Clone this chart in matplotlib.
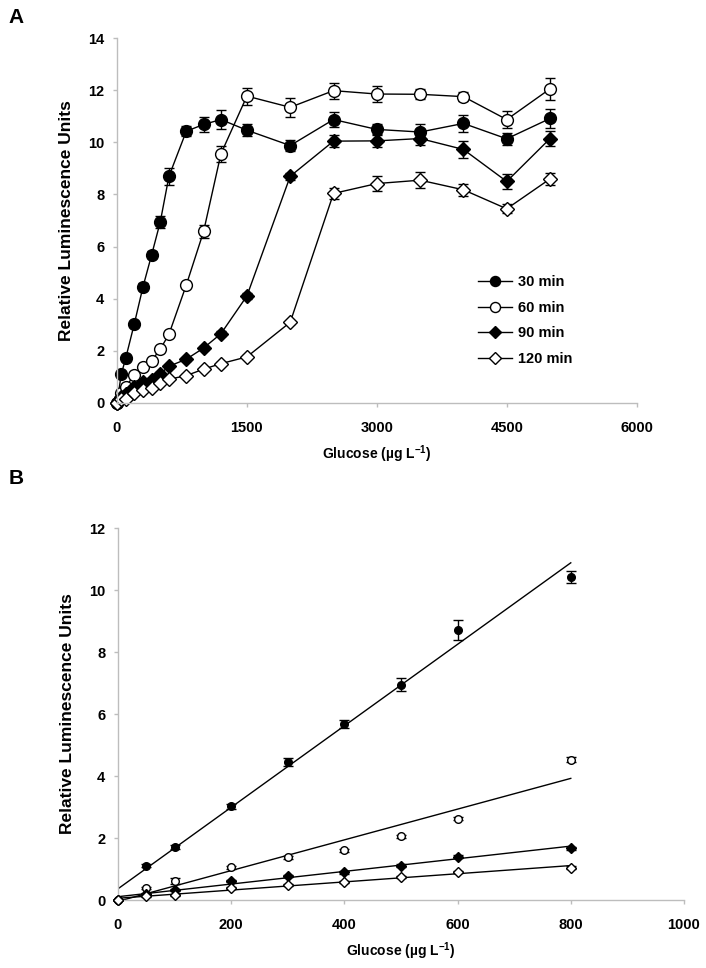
import matplotlib
matplotlib.use("Agg")
import matplotlib.pyplot as plt
import numpy as np

plt.rcParams['font.family'] = ['Liberation Sans', 'DejaVu Sans']
plt.rcParams['font.weight'] = 'bold'
plt.rcParams['mathtext.fontset'] = 'custom'
plt.rcParams['mathtext.bf'] = 'Liberation Sans:bold'
plt.rcParams['mathtext.rm'] = 'Liberation Sans:bold'
plt.rcParams['mathtext.default'] = 'bf'

# glucose concentrations (ug/L)
glucose = [0, 50, 100, 200, 300, 400, 500, 600, 800, 1000, 1200, 1500,
           2000, 2500, 3000, 3500, 4000, 4500, 5000]

rlu_30 = [0, 1.1, 1.7, 3.03, 4.45, 5.68, 6.95, 8.7, 10.43, 10.69, 10.88, 10.47,
          9.88, 10.88, 10.5, 10.4, 10.73, 10.14, 10.92]
err_30 = [0, 0.05, 0.06, 0.08, 0.13, 0.13, 0.22, 0.32, 0.2, 0.3, 0.38, 0.22,
          0.21, 0.28, 0.19, 0.29, 0.32, 0.22, 0.38]

rlu_60 = [0, 0.38, 0.61, 1.06, 1.38, 1.61, 2.06, 2.63, 4.52, 6.58, 9.56, 11.78,
          11.35, 11.99, 11.86, 11.85, 11.76, 10.88, 12.06]
err_60 = [0, 0.03, 0.1, 0.05, 0.05, 0.05, 0.05, 0.06, 0.08, 0.24, 0.3, 0.33,
          0.37, 0.31, 0.29, 0.2, 0.18, 0.34, 0.42]

rlu_90 = [0, 0.21, 0.32, 0.61, 0.78, 0.89, 1.11, 1.4, 1.67, 2.1, 2.65, 4.1,
          8.7, 10.05, 10.06, 10.15, 9.73, 8.5, 10.15]
err_90 = [0, 0.02, 0.03, 0.04, 0.04, 0.05, 0.05, 0.05, 0.05, 0.08, 0.1, 0.1,
          0.13, 0.23, 0.22, 0.24, 0.31, 0.29, 0.3]

rlu_120 = [0, 0.13, 0.16, 0.38, 0.48, 0.57, 0.75, 0.9, 1.04, 1.29, 1.5, 1.76,
           3.09, 8.04, 8.42, 8.55, 8.18, 7.45, 8.6]
err_120 = [0, 0.02, 0.02, 0.03, 0.03, 0.03, 0.04, 0.04, 0.05, 0.05, 0.05, 0.06,
           0.06, 0.21, 0.3, 0.3, 0.22, 0.17, 0.24]

labels = ['30 min', '60 min', '90 min', '120 min']
n_linear = 9  # points up to 800 ug/L used in panel B

series = [
    (rlu_30, err_30, 'o', 'black'),
    (rlu_60, err_60, 'o', 'white'),
    (rlu_90, err_90, 'D', 'black'),
    (rlu_120, err_120, 'D', 'white'),
]

axis_grey = '#bdbdbd'
xlabel = r'Glucose (µg L$^{-1}$)'
ylabel = 'Relative Luminescence Units'
tick_fs = 10.5
xlabel_fs = 10
ylabel_fs = 12.5


def style_axes(ax):
    for side in ['top', 'right']:
        ax.spines[side].set_visible(False)
    for side in ['left', 'bottom']:
        ax.spines[side].set_color(axis_grey)
        ax.spines[side].set_linewidth(1.0)
    ax.tick_params(axis='both', direction='out', length=3, width=1,
                   color=axis_grey, labelsize=tick_fs)
    ax.tick_params(axis='x', pad=10)
    ax.tick_params(axis='y', pad=6)
    for lab in ax.get_xticklabels() + ax.get_yticklabels():
        lab.set_fontweight('bold')


fig = plt.figure(figsize=(7.06, 9.68), dpi=100)

# ---- panel A
axA = fig.add_axes([0.1657, 0.584, 0.7361, 0.3764])
for (y, e, m, fc), lab in zip(series, labels):
    ms = 8.5 if m == 'o' else 7.5
    axA.errorbar(glucose, y, yerr=e, color='black', lw=1.0, marker=m,
                 markersize=ms, markerfacecolor=fc, markeredgecolor='black',
                 markeredgewidth=1.0, ecolor='black', elinewidth=1.0,
                 capsize=3.8, capthick=1.0, label=lab, clip_on=False)
axA.set_xlim(0, 6000)
axA.set_ylim(0, 14)
axA.set_xticks([0, 1500, 3000, 4500, 6000])
axA.set_yticks(range(0, 15, 2))
style_axes(axA)
axA.set_xlabel(xlabel, fontsize=xlabel_fs, fontweight='bold', labelpad=6)
axA.set_ylabel(ylabel, fontsize=ylabel_fs, fontweight='bold', labelpad=10)

handles, hl = axA.get_legend_handles_labels()
handles = [h[0] for h in handles]
leg = axA.legend(handles, hl, loc='upper left', bbox_to_anchor=(0.695, 0.35),
                 frameon=False, fontsize=tick_fs, handlelength=2.3,
                 handletextpad=0.4, labelspacing=0.8, borderpad=0,
                 borderaxespad=0, markerscale=0.85)
for t in leg.get_texts():
    t.set_fontweight('bold')

# ---- panel B
axB = fig.add_axes([0.1671, 0.0702, 0.8017, 0.3843])
xb = np.array(glucose[:n_linear], dtype=float)
for (y, e, m, fc), lab in zip(series, labels):
    yb = np.array(y[:n_linear])
    ms = 5.5 if m == 'o' else 5
    axB.errorbar(xb, yb, yerr=e[:n_linear], fmt=m, color='black',
                 markersize=ms, markerfacecolor=fc, markeredgecolor='black',
                 markeredgewidth=1.0, ecolor='black', elinewidth=1.0,
                 capsize=3.8, capthick=1.0, clip_on=False, zorder=3)
    k, b = np.polyfit(xb, yb, 1)
    xl = np.array([0, 800])
    axB.plot(xl, k * xl + b, color='black', lw=1.0, zorder=2)
axB.set_xlim(0, 1000)
axB.set_ylim(0, 12)
axB.set_xticks(range(0, 1001, 200))
axB.set_yticks(range(0, 13, 2))
style_axes(axB)
axB.set_xlabel(xlabel, fontsize=xlabel_fs, fontweight='bold', labelpad=6)
axB.set_ylabel(ylabel, fontsize=ylabel_fs, fontweight='bold', labelpad=10)

fig.text(0.012, 0.992, 'A', fontsize=15, fontweight='bold', va='top', ha='left')
fig.text(0.012, 0.515, 'B', fontsize=15, fontweight='bold', va='top', ha='left')

fig.savefig('out.png', dpi=100)
